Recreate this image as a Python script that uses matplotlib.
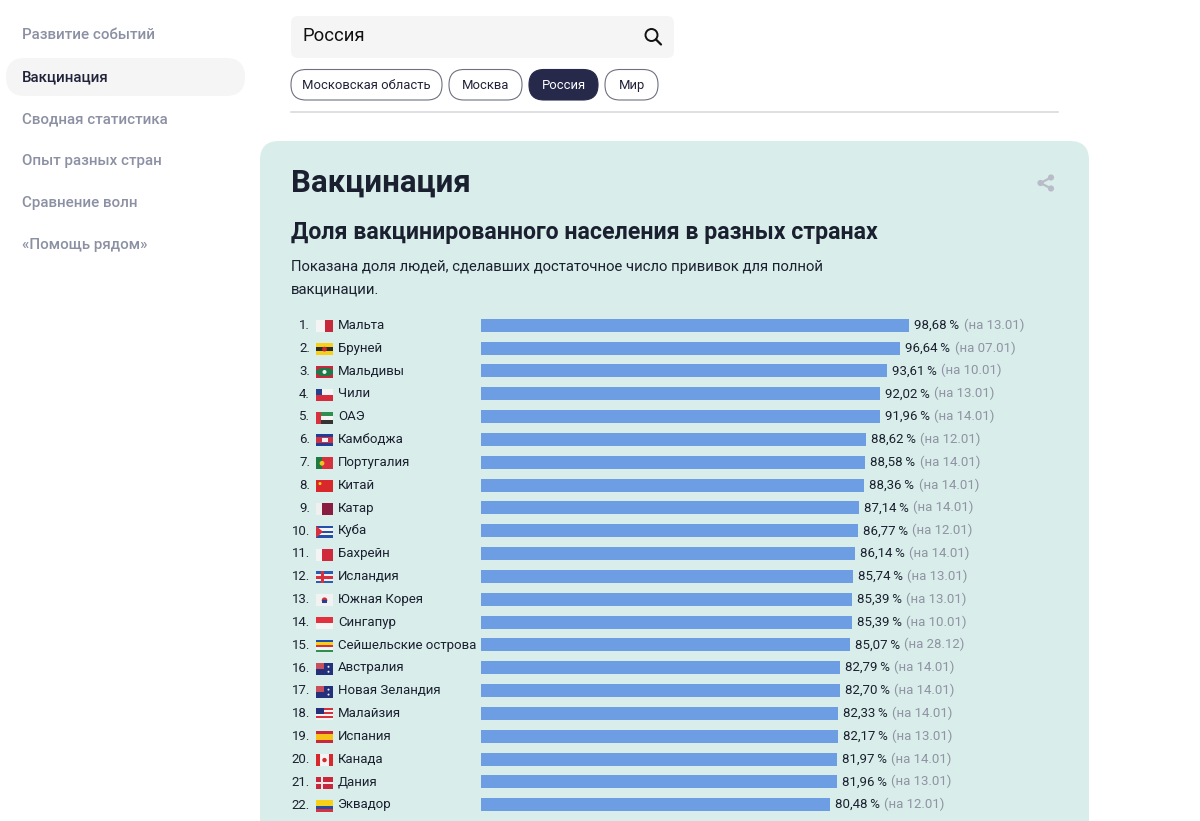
import matplotlib
matplotlib.use("Agg")
import matplotlib.pyplot as plt
from matplotlib.patches import FancyBboxPatch, Rectangle, Circle, Polygon

plt.rcParams['font.family'] = ['Roboto', 'DejaVu Sans']

ranks = list(range(1, 23))
countries = ["Мальта", "Бруней", "Мальдивы", "Чили", "ОАЭ", "Камбоджа", "Португалия", "Китай",
             "Катар", "Куба", "Бахрейн", "Исландия", "Южная Корея", "Сингапур",
             "Сейшельские острова", "Австралия", "Новая Зеландия", "Малайзия", "Испания",
             "Канада", "Дания", "Эквадор"]
values = [98.68, 96.64, 93.61, 92.02, 91.96, 88.62, 88.58, 88.36, 87.14, 86.77, 86.14,
          85.74, 85.39, 85.39, 85.07, 82.79, 82.70, 82.33, 82.17, 81.97, 81.96, 80.48]
dates = ["13.01", "07.01", "10.01", "13.01", "14.01", "12.01", "14.01", "14.01", "14.01", "12.01", "14.01",
         "13.01", "13.01", "10.01", "28.12", "14.01", "14.01", "14.01", "13.01", "14.01", "13.01", "12.01"]
# flag: (direction, stripe colours)
flags = [("v", ["#f4f4f4", "#c8283c"]), ("h", ["#f7d117", "#2b2b2b", "#f7d117"]),
         ("h", ["#c8283c", "#1f7a4a", "#c8283c"]), ("h", ["#f4f4f4", "#d52b3c"]),
         ("h", ["#2f8f4e", "#f4f4f4", "#333333"]), ("h", ["#1c3f9a", "#d32f3f", "#d32f3f", "#1c3f9a"]),
         ("v", ["#1f7a3f", "#d8303c", "#d8303c"]), ("h", ["#d8282c"]),
         ("v", ["#f0f0f0", "#8a1c42", "#8a1c42"]), ("h", ["#2350a8", "#f4f4f4", "#2350a8", "#f4f4f4", "#2350a8"]),
         ("v", ["#f4f4f4", "#d0283c", "#d0283c"]), ("h", ["#2a5cb4", "#f0f0f0", "#d8303c", "#f0f0f0", "#2a5cb4"]),
         ("h", ["#f2f2f2"]), ("h", ["#e2303c", "#f4f4f4"]),
         ("h", ["#1f4fa8", "#f7d117", "#d8303c", "#f4f4f4", "#2f8f4e"]), ("h", ["#24307c"]),
         ("h", ["#24307c"]), ("h", ["#d8303c", "#f4f4f4", "#d8303c", "#f4f4f4", "#d8303c", "#f4f4f4"]),
         ("h", ["#c8283c", "#f7c117", "#f7c117", "#c8283c"]), ("v", ["#d8282c", "#f4f4f4", "#f4f4f4", "#d8282c"]),
         ("h", ["#c8283c", "#c8283c", "#f0e8e8", "#c8283c", "#c8283c"]),
         ("h", ["#f7d117", "#f7d117", "#1f4fa8", "#d8303c"])]
nav_items = ["Развитие событий", "Вакцинация", "Сводная статистика", "Опыт разных стран",
             "Сравнение волн", "«Помощь рядом»"]
chips = ["Московская область", "Москва", "Россия", "Мир"]

fig = plt.figure(figsize=(12, 8.21), dpi=100, facecolor="white")
ui = fig.add_axes([0, 0, 1, 1], zorder=0)
ui.set_xlim(0, 1200)
ui.set_ylim(821, 0)
ui.axis("off")

def rbox(x0, y0, x1, y1, r, **kw):
    ui.add_patch(FancyBboxPatch((x0 + r, y0 + r), x1 - x0 - 2 * r, y1 - y0 - 2 * r,
                                boxstyle=f"round,pad={r},rounding_size={r}", **kw))

# left nav
rbox(6, 58, 245, 96, 19, fc="#f5f5f5", ec="none")
for i, item in enumerate(nav_items):
    ui.text(22, 35 + 42 * i, item, fontsize=10.9, va="center", fontweight="medium",
            color="#21233a" if i == 1 else "#8c90a3")

# search box
rbox(291, 16, 674, 58, 7, fc="#f5f5f5", ec="none")
ui.text(302, 36, "Россия", fontsize=13.3, va="center", color="#111111")
ui.add_patch(Circle((651.5, 35), 6, fc="none", ec="#111111", lw=1.4))
ui.plot([655.8, 661], [39.3, 44.5], color="#111111", lw=1.6, solid_capstyle="round")

# chips
chip_x = [(291, 442), (449, 522), (529, 598), (605, 658)]
for (x0, x1), c in zip(chip_x, chips):
    active = c == "Россия"
    rbox(x0, 69.5, x1, 100, 15, fc="#26294a" if active else "white",
         ec="#26294a" if active else "#6f7180", lw=0.8)
    ui.text((x0 + x1) / 2, 85.3, c, fontsize=9.4, ha="center", va="center",
            color="white" if active else "#21233a")
ui.plot([291, 1058], [112, 112], color="#d6d6dc", lw=1.1)

# card
rbox(260, 141, 1089, 880, 19, fc="#d9eeea", ec="none")
ui.text(291, 183, "Вакцинация", fontsize=22.5, fontweight="bold", va="center", color="#1b2030")
ui.text(291, 232, "Доля вакцинированного населения в разных странах", fontsize=16.65,
        fontweight="bold", va="center", color="#1b2030")
ui.text(291, 267.5, "Показана доля людей, сделавших достаточное число прививок для полной",
        fontsize=10.7, va="center", color="#1b2030")
ui.text(291, 289.5, "вакцинации.", fontsize=10.7, va="center", color="#1b2030")

# share icon
sc = "#b9bcc8"
ui.plot([1051, 1040.5, 1051], [177.5, 183, 188.5], color=sc, lw=1.6)
for cx, cy in [(1051, 177.5), (1040.5, 183), (1051, 188.5)]:
    ui.add_patch(Circle((cx, cy), 3.1, fc=sc, ec="none"))

# row labels and flags
row0, step = 325.3, 22.83
fw, fh = 17, 12
for i, (r, c, fl) in enumerate(zip(ranks, countries, flags)):
    y = row0 + step * i
    ui.text(310, y + 0.3, f"{r}.", fontsize=9.5, ha="right", va="center", color="#1b2030")
    ui.text(338, y + 0.1, c, fontsize=9.5, va="center", color="#1b2030")
    d, cols = fl
    fx, fy = 316, y - 5
    n = len(cols)
    for k, col in enumerate(cols):
        if d == "h":
            ui.add_patch(Rectangle((fx, fy + fh * k / n), fw, fh / n, fc=col, ec="none"))
        else:
            ui.add_patch(Rectangle((fx + fw * k / n, fy), fw / n, fh, fc=col, ec="none"))
    # small emblem details of the flag glyphs
    if c == "Чили":
        ui.add_patch(Rectangle((fx, fy), 5.5, fh / 2, fc="#24408e", ec="none"))
    elif c == "ОАЭ":
        ui.add_patch(Rectangle((fx, fy), 5, fh, fc="#d8303c", ec="none"))
    elif c in ("Куба",):
        ui.add_patch(Polygon([(fx, fy), (fx + 7, fy + fh / 2), (fx, fy + fh)], fc="#d8303c", ec="none"))
    elif c == "Южная Корея":
        ui.add_patch(Circle((fx + fw / 2, fy + fh / 2), 2.8, fc="#c8303c", ec="none"))
        ui.add_patch(Rectangle((fx + fw / 2 - 2.8, fy + fh / 2), 5.6, 2.8, fc="#24408e", ec="none"))
    elif c in ("Австралия", "Новая Зеландия"):
        ui.add_patch(Rectangle((fx, fy), 7.5, fh / 2, fc="#c8505c", ec="none"))
        ui.add_patch(Circle((fx + 12.5, fy + 4), 1, fc="#f4f4f4", ec="none"))
        ui.add_patch(Circle((fx + 12.5, fy + 9), 1, fc="#f4f4f4", ec="none"))
    elif c == "Малайзия":
        ui.add_patch(Rectangle((fx, fy), 8, fh / 2, fc="#24307c", ec="none"))
    elif c == "Дания":
        ui.add_patch(Rectangle((fx + 5, fy), 2.4, fh, fc="#f0e8e8", ec="none"))
    elif c == "Исландия":
        ui.add_patch(Rectangle((fx + 5, fy), 2.6, fh, fc="#d8303c", ec="none"))
    elif c == "Канада":
        ui.add_patch(Circle((fx + fw / 2, fy + fh / 2), 2.2, fc="#d8282c", ec="none"))
    elif c == "Китай":
        ui.add_patch(Circle((fx + 4, fy + 3.5), 1.5, fc="#f7d117", ec="none"))
    elif c == "Португалия":
        ui.add_patch(Circle((fx + 6, fy + fh / 2), 2.4, fc="#f0c020", ec="none"))
    elif c == "Камбоджа":
        ui.add_patch(Rectangle((fx + 5.5, fy + 4), 6, 4, fc="#f0f0f0", ec="none"))
    elif c == "Мальдивы":
        ui.add_patch(Rectangle((fx + 2.5, fy + 2), 12, 8, fc="#1f7a4a", ec="none"))
        ui.add_patch(Circle((fx + 8.5, fy + 6), 2, fc="#f4f4f4", ec="none"))
    elif c == "Бруней":
        ui.add_patch(Circle((fx + 8.5, fy + 6), 2.4, fc="#c8283c", ec="none"))

# bar chart: x 0-100 % over 434 px from x=481
H = 821.0
n = len(values)
top = row0 - step / 2
bottom = row0 + step * (n - 0.5)
ax = fig.add_axes([481 / 1200, 1 - bottom / H, 434 / 1200, (bottom - top) / H], zorder=1)
ax.patch.set_alpha(0)
ax.set_xlim(0, 100)
ax.set_ylim(n - 0.5, -0.5)
ax.axis("off")
ax.barh(range(n), values, height=0.57, color="#6d9ee3", edgecolor="none")
for i, (v, d) in enumerate(zip(values, dates)):
    t = ax.annotate(f"{v:.2f}".replace(".", ",") + "\u2009%", xy=(v, i), xytext=(3.6, 0),
                    textcoords="offset points", fontsize=9.5, va="center", color="#1b2030",
                    annotation_clip=False)
    ax.annotate(f"(на {d})", xy=(1, 0), xycoords=t, xytext=(3, 0), textcoords="offset points",
                fontsize=9.5, va="bottom", color="#8f93a3", annotation_clip=False)

fig.savefig("out.png", dpi=100, facecolor="white")
